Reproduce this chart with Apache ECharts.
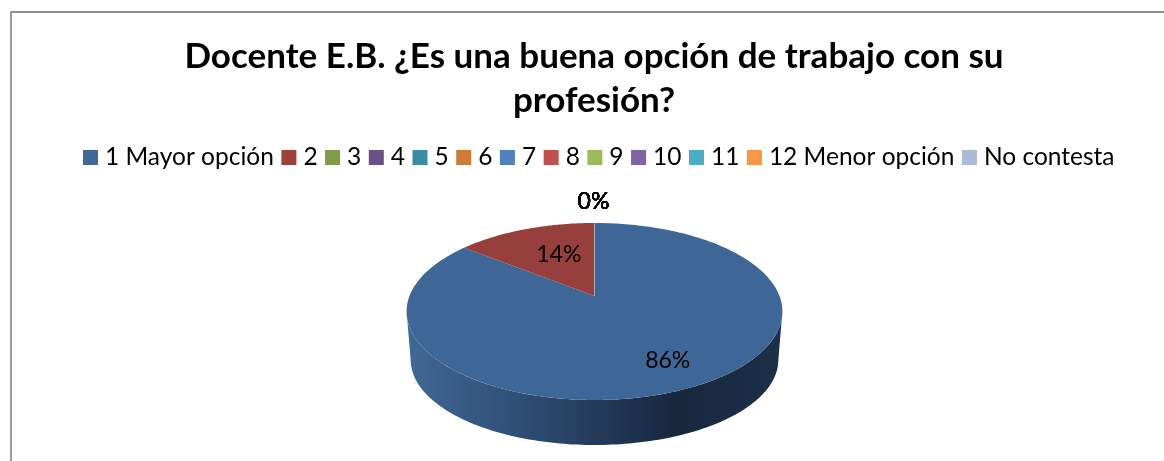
<!DOCTYPE html>
<html>
<head>
<meta charset="utf-8">
<title>Docente E.B.</title>
<script src="https://cdn.jsdelivr.net/npm/echarts@6/dist/echarts.min.js"></script>
<style>
  html, body { margin: 0; padding: 0; background: #fff; }
  #chart { width: 1164px; height: 461px; }
</style>
</head>
<body>
<div id="chart"></div>
<script>
const chartTitle = "Docente E.B. ¿Es una buena opción de trabajo con su\nprofesión?";
const categories = ["1 Mayor opción", "2", "3", "4", "5", "6", "7", "8", "9", "10", "11", "12 Menor opción", "No contesta"];
const answers = [6, 1, 0, 0, 0, 0, 0, 0, 0, 0, 0, 0, 0];
const colors = ["#3f6797", "#9e413e", "#7f9a48", "#695185", "#3c8da3", "#cc7b38", "#4f81bd", "#c0504d", "#9bbb59", "#8064a2", "#4bacc6", "#f79646", "#aabad7"];
const topColors = ["#3e6798", "#963f3c"];

// 3D look: unit circle pushed through a small perspective transform
const cx = 594.5, tilt = 0.175;
const topDisc = { a: 185, b: 85.8, c: 296 };
const baseDisc = { a: 181, b: 82.5, c: 345 };
const frontFrom = Math.acos(-tilt), frontTo = 2 * Math.PI - frontFrom;
const total = answers.reduce((a, b) => a + b, 0);

function project(angle, reach, disc) {
  const u = Math.sin(angle) * reach, v = Math.cos(angle) * reach;
  const w = 1 + tilt * v;
  return [cx + disc.a * u / w, disc.c - disc.b * v / w];
}

function arc(from, to, disc) {
  const pts = [];
  const n = Math.max(2, Math.ceil((to - from) / 0.02));
  for (let i = 0; i <= n; i++) pts.push(project(from + (to - from) * i / n, 1, disc));
  return pts;
}

const wallFill = {
  type: "linear", x: 406, y: 0, x2: 782, y2: 0, global: true,
  colorStops: [
    { offset: 0, color: "#416897" },
    { offset: 0.3, color: "#2f4f76" },
    { offset: 0.72, color: "#17273e" },
    { offset: 1, color: "#1d304a" }
  ]
};

// where Excel left the labels: [reach along mid angle, x nudge]
const labelSpots = { 0: [0.74, 6], 1: [0.58, 7] };

function sliceRenderer(index) {
  const before = answers.slice(0, index).reduce((a, b) => a + b, 0);
  return function (params, api) {
    const value = api.value(0);
    const from = before / total * 2 * Math.PI;
    const to = (before + value) / total * 2 * Math.PI;
    const children = [];
    if (value > 0) {
      const wallFrom = Math.max(from, frontFrom), wallTo = Math.min(to, frontTo);
      if (wallTo > wallFrom) {
        children.push({
          type: "polygon",
          shape: { points: arc(wallFrom, wallTo, topDisc).concat(arc(wallFrom, wallTo, baseDisc).reverse()) },
          style: { fill: wallFill }
        });
      }
      children.push({
        type: "polygon",
        shape: { points: [[cx, topDisc.c]].concat(arc(from, to, topDisc)) },
        style: { fill: topColors[index] }
      });
    }
    if (index === 1) {
      // pale seam on the 12 o'clock edge
      const rim = project(to, 1, topDisc);
      children.push({
        type: "line",
        shape: { x1: cx, y1: topDisc.c, x2: rim[0], y2: rim[1] },
        style: { stroke: "rgba(190,205,225,0.55)", lineWidth: 1 }
      });
    }
    const mid = (from + to) / 2;
    const spot = labelSpots[index] || [1.37, -1];
    const at = project(mid, spot[0], topDisc);
    children.push({
      type: "text",
      z2: 10,
      style: {
        x: at[0] + spot[1], y: at[1],
        text: Math.round(value / total * 100) + "%",
        fill: "#000",
        font: "23px Lato",
        align: "center",
        verticalAlign: "middle"
      }
    });
    return { type: "group", children: children };
  };
}

const chart = echarts.init(document.getElementById("chart"));
chart.setOption({
  animation: false,
  title: {
    text: chartTitle,
    left: 589,
    top: 30,
    textAlign: "center",
    textStyle: { fontFamily: "Lato", fontWeight: "bold", fontSize: 35, lineHeight: 44, color: "#000" }
  },
  legend: {
    data: categories,
    left: 78,
    top: 140,
    width: 1086,
    icon: "rect",
    itemWidth: 15,
    itemHeight: 15,
    itemGap: 7.5,
    selectedMode: false,
    textStyle: { fontFamily: "Lato", fontSize: 24.5, color: "#000", padding: [0, 0, 0, 2] }
  },
  graphic: [
    { type: "rect", silent: true, shape: { x: 10, y: 11, width: 1154, height: 2 }, style: { fill: "#8f8f8f" } },
    { type: "rect", silent: true, shape: { x: 10, y: 11, width: 2, height: 450 }, style: { fill: "#9a9a9a" } }
  ],
  series: categories.map((name, i) => ({
    name: name,
    type: "custom",
    coordinateSystem: "none",
    silent: true,
    itemStyle: { color: colors[i] },
    data: [[answers[i]]],
    renderItem: sliceRenderer(i)
  }))
});
</script>
</body>
</html>
